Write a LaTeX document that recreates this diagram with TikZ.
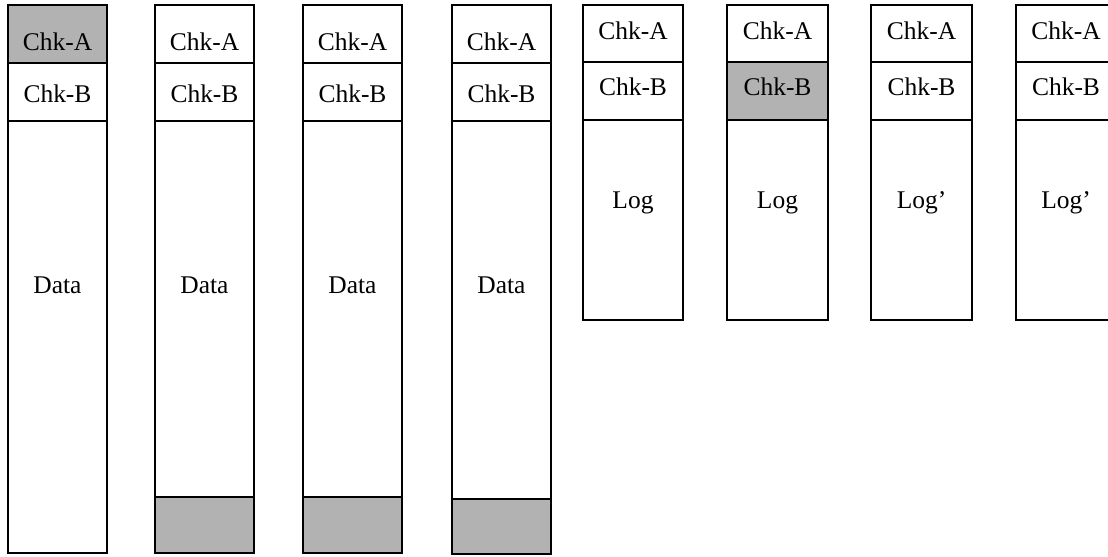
\documentclass[tikz,border=0pt]{standalone}
\usepackage{fontspec}
\setmainfont{Liberation Serif}
\usepackage{tikz}
\tikzset{
  font={\fontsize{14.5pt}{17}\selectfont}}

\begin{document}
\begin{tikzpicture}[x=0.02cm,y=-0.02cm]
\tikzstyle{every node}+=[inner sep=0pt]
\tikzstyle{cell}=[draw=black,line width=0.7pt]
\tikzstyle{hit}=[cell,fill=black!30]
\tikzstyle{lbl}=[anchor=base]
\useasboundingbox (0,0) rectangle (1108,556);
% data columns
\draw [hit] (8,5) rectangle (107,63);
\draw [cell] (8,63) rectangle (107,121);
\draw [cell] (8,121) rectangle (107,553);
\node [lbl] (d1a) at (57.5,50) {Chk-A};
\node [lbl] (d1b) at (57.5,102) {Chk-B};
\node [lbl] (d1d) at (57.5,293) {Data};
\draw [cell] (155,5) rectangle (254,63);
\draw [cell] (155,63) rectangle (254,121);
\draw [cell] (155,121) rectangle (254,497);
\draw [hit] (155,497) rectangle (254,553);
\node [lbl] (d2a) at (204.5,50) {Chk-A};
\node [lbl] (d2b) at (204.5,102) {Chk-B};
\node [lbl] (d2d) at (204.5,293) {Data};
\draw [cell] (303,5) rectangle (402,63);
\draw [cell] (303,63) rectangle (402,121);
\draw [cell] (303,121) rectangle (402,497);
\draw [hit] (303,497) rectangle (402,553);
\node [lbl] (d3a) at (352.5,50) {Chk-A};
\node [lbl] (d3b) at (352.5,102) {Chk-B};
\node [lbl] (d3d) at (352.5,293) {Data};
\draw [cell] (452,5) rectangle (551,63);
\draw [cell] (452,63) rectangle (551,121);
\draw [cell] (452,121) rectangle (551,499);
\draw [hit] (452,499) rectangle (551,554);
\node [lbl] (d4a) at (501.5,50) {Chk-A};
\node [lbl] (d4b) at (501.5,102) {Chk-B};
\node [lbl] (d4d) at (501.5,293) {Data};
% log columns
\draw [cell] (583,5) rectangle (683,62);
\draw [cell] (583,62) rectangle (683,120);
\draw [cell] (583,120) rectangle (683,320);
\node [lbl] (l1a) at (633,39) {Chk-A};
\node [lbl] (l1b) at (633,95) {Chk-B};
\node [lbl] (l1d) at (633,208) {Log};
\draw [cell] (727,5) rectangle (828,62);
\draw [hit] (727,62) rectangle (828,120);
\draw [cell] (727,120) rectangle (828,320);
\node [lbl] (l2a) at (777.5,39) {Chk-A};
\node [lbl] (l2b) at (777.5,95) {Chk-B};
\node [lbl] (l2d) at (777.5,208) {Log};
\draw [cell] (871,5) rectangle (972,62);
\draw [cell] (871,62) rectangle (972,120);
\draw [cell] (871,120) rectangle (972,320);
\node [lbl] (l3a) at (921.5,39) {Chk-A};
\node [lbl] (l3b) at (921.5,95) {Chk-B};
\node [lbl] (l3d) at (921.5,208) {Log’};
\draw [cell] (1016,5) rectangle (1116,62);
\draw [cell] (1016,62) rectangle (1116,120);
\draw [cell] (1016,120) rectangle (1116,320);
\node [lbl] (l4a) at (1066,39) {Chk-A};
\node [lbl] (l4b) at (1066,95) {Chk-B};
\node [lbl] (l4d) at (1066,208) {Log’};
\end{tikzpicture}
\end{document}
